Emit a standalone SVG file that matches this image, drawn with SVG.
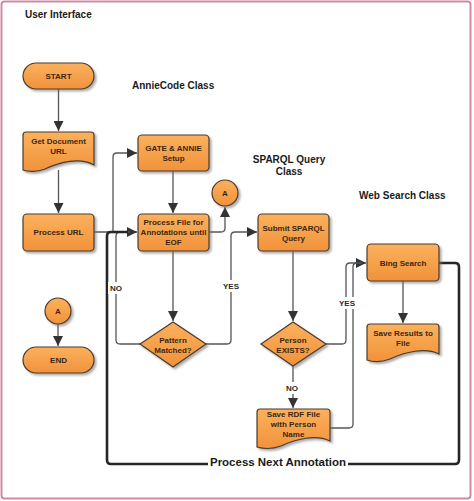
<svg xmlns="http://www.w3.org/2000/svg" width="474" height="501" viewBox="0 0 474 501">
<defs>
<linearGradient id="og" x1="0" y1="0" x2="0" y2="1">
<stop offset="0" stop-color="#fbb15e"/>
<stop offset="1" stop-color="#f1923a"/>
</linearGradient>
<filter id="sh" x="-20%" y="-20%" width="140%" height="150%">
<feDropShadow dx="2" dy="2" stdDeviation="1.2" flood-color="#777" flood-opacity="0.6"/>
</filter>
<marker id="ar" viewBox="0 0 10 10" refX="10" refY="5" markerWidth="10" markerHeight="10" markerUnits="userSpaceOnUse" orient="auto">
<path d="M0,0 L10,5 L0,10 Z" fill="#333"/>
</marker>
</defs>
<style>
.n{fill:url(#og);stroke:#4a3b2c;stroke-width:1.2;filter:url(#sh)}
.t{font-family:"Liberation Sans",Arial,sans-serif;font-size:8px;font-weight:bold;fill:#3a2812;text-anchor:middle;dominant-baseline:central}
.h{font-family:"Liberation Sans",Arial,sans-serif;font-size:10px;font-weight:bold;fill:#1a1a1a}
.l{font-family:"Liberation Sans",Arial,sans-serif;font-size:8px;font-weight:bold;fill:#2a2a2a;text-anchor:middle;dominant-baseline:central}
.c{fill:none;stroke:#555;stroke-width:1.3}
.k{fill:none;stroke:#262626;stroke-width:2.6}
</style>
<rect x="1.5" y="1.5" width="469" height="497" rx="3" fill="#fff" stroke="#d08aa6" stroke-width="2"/>

<text class="h" x="25" y="18">User Interface</text>
<text class="h" x="132" y="89">AnnieCode Class</text>
<text class="h" x="289" y="163" text-anchor="middle">SPARQL Query</text>
<text class="h" x="289" y="175" text-anchor="middle">Class</text>
<text class="h" x="359" y="199">Web Search Class</text>

<g id="connectors">
<path class="c" d="M58.5,89 V131" marker-end="url(#ar)"/>
<path class="c" d="M58.5,170 V213" marker-end="url(#ar)"/>
<path class="c" d="M58,324 V346" marker-end="url(#ar)"/>
<path class="c" d="M94,232 H137" marker-end="url(#ar)"/>
<path class="c" d="M113,232 V157 Q113,153 117,153 H137" marker-end="url(#ar)"/>
<path class="c" d="M173,171 V213" marker-end="url(#ar)"/>
<path class="c" d="M209,232 H221 Q225,232 225,228 V207" marker-end="url(#ar)"/>
<path class="c" d="M173,251 V321" marker-end="url(#ar)"/>
<path class="c" d="M141,344 H120 Q116,344 116,340 V236 Q116,232 120,232 H130"/>
<path class="c" d="M206,344 H227 Q231,344 231,340 V236 Q231,232 235,232 H257" marker-end="url(#ar)"/>
<path class="c" d="M293,251 V321" marker-end="url(#ar)"/>
<path class="c" d="M326,344 H342 Q346,344 346,340 V267 Q346,263 350,263 H366" marker-end="url(#ar)"/>
<path class="c" d="M330,428 H349 Q353,428 353,424 V267 Q353,263 357,263 H362"/>
<path class="c" d="M293,366 V408" marker-end="url(#ar)"/>
<path class="c" d="M403,281 V323" marker-end="url(#ar)"/>
<path class="k" d="M439,263 H455 Q459,263 459,267 V460 Q459,464 455,464 H348"/>
<path class="k" d="M208,464 H111 Q107,464 107,460 V236 Q107,232 111,232 H128"/>
<rect x="108" y="282" width="16" height="12" fill="#fff"/>
<text class="l" x="116" y="288">NO</text>
<rect x="222" y="280" width="18" height="12" fill="#fff"/>
<text class="l" x="231" y="286">YES</text>
<rect x="338" y="297" width="18" height="12" fill="#fff"/>
<text class="l" x="347" y="303">YES</text>
<rect x="285" y="382" width="16" height="12" fill="#fff"/>
<text class="l" x="292" y="388">NO</text>
<text class="h" x="210" y="466" textLength="136" lengthAdjust="spacingAndGlyphs">Process Next Annotation</text>
</g>

<g id="start"><rect class="n" x="23" y="63" width="71" height="26" rx="13"/><text class="t" x="58.5" y="76">START</text></g>
<g id="getdoc"><path class="n" d="M26,132 H91 Q94,132 94,135 V165 C80,157 60,162 45,169 C37,172 28,172 23,170 V135 Q23,132 26,132 Z"/><text class="t" x="58.5" y="141">Get Document</text><text class="t" x="58.5" y="151">URL</text></g>
<g id="processurl"><rect class="n" x="23" y="214" width="71" height="37" rx="4"/><text class="t" x="58.5" y="232">Process URL</text></g>
<g id="a-left"><circle class="n" cx="58" cy="311" r="13"/><text class="t" x="58" y="311">A</text></g>
<g id="end"><rect class="n" x="23" y="347" width="71" height="26" rx="13"/><text class="t" x="58.5" y="360">END</text></g>

<g id="gate"><rect class="n" x="138" y="135" width="71" height="36" rx="4"/><text class="t" x="173.5" y="148">GATE &amp; ANNIE</text><text class="t" x="173.5" y="158">Setup</text></g>
<g id="processfile"><rect class="n" x="138" y="214" width="71" height="37" rx="4"/><text class="t" x="173.5" y="222">Process File for</text><text class="t" x="173.5" y="232">Annotations until</text><text class="t" x="173.5" y="242">EOF</text></g>
<g id="a-right"><circle class="n" cx="225" cy="193" r="13"/><text class="t" x="225" y="193">A</text></g>
<g id="pattern"><path class="n" d="M173,322 L206,344 L173,367 L140,344 Z"/><text class="t" x="173" y="340">Pattern</text><text class="t" x="173" y="350">Matched?</text></g>

<g id="sparql"><rect class="n" x="258" y="214" width="71" height="37" rx="4"/><text class="t" x="293.5" y="228">Submit SPARQL</text><text class="t" x="293.5" y="238">Query</text></g>
<g id="person"><path class="n" d="M293,322 L326,344 L293,366 L261,344 Z"/><text class="t" x="293" y="340">Person</text><text class="t" x="293" y="350">EXISTS?</text></g>
<g id="saverdf"><path class="n" d="M260,409 H327 Q330,409 330,412 V441 C316,434 296,439 281,446 C273,449 264,449 257,447 V412 Q257,409 260,409 Z"/><text class="t" x="293.5" y="414">Save RDF File</text><text class="t" x="293.5" y="424">with Person</text><text class="t" x="293.5" y="434">Name</text></g>

<g id="bing"><rect class="n" x="367" y="244" width="72" height="37" rx="4"/><text class="t" x="403" y="263">Bing Search</text></g>
<g id="saveresults"><path class="n" d="M370,324 H436 Q439,324 439,327 V354 C425,347 405,352 390,359 C382,362 373,362 367,360 V327 Q367,324 370,324 Z"/><text class="t" x="403" y="333">Save Results to</text><text class="t" x="403" y="343">File</text></g>
</svg>
